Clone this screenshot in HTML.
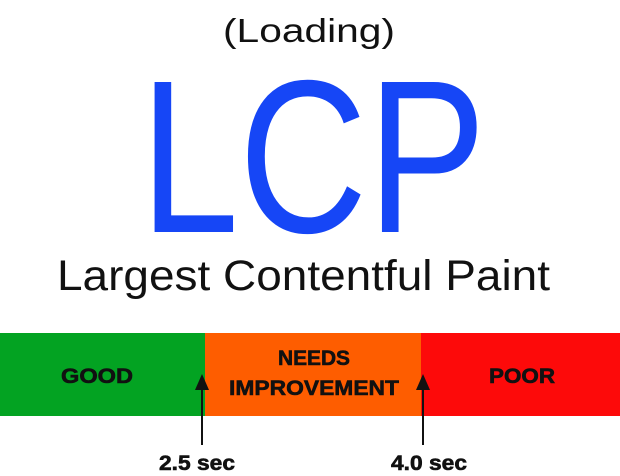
<!DOCTYPE html>
<html><head><style>html,body{margin:0;padding:0;background:#fff;width:620px;height:476px;overflow:hidden}</style></head>
<body>
<svg width="620" height="476" xmlns="http://www.w3.org/2000/svg" font-family="Liberation Sans, sans-serif">
<text x="309" y="42" font-size="33" text-anchor="middle" fill="#111" textLength="172" lengthAdjust="spacingAndGlyphs">(Loading)</text>
<text x="140" y="232" font-size="218" fill="#1646f6" textLength="346" lengthAdjust="spacingAndGlyphs">LCP</text>
<text x="57" y="290" font-size="43" fill="#111" textLength="493" lengthAdjust="spacingAndGlyphs">Largest Contentful Paint</text>
<rect x="0" y="333" width="205" height="83" fill="#03a322"/>
<rect x="205" y="333" width="216" height="83" fill="#fe5d00"/>
<rect x="421" y="333" width="199" height="83" fill="#fd0a0a"/>
<g font-weight="bold" font-size="21" fill="#111" text-anchor="middle" stroke="#111" stroke-width="0.6">
<text x="97" y="383" textLength="72" lengthAdjust="spacingAndGlyphs">GOOD</text>
<text x="314" y="365" textLength="72" lengthAdjust="spacingAndGlyphs">NEEDS</text>
<text x="314" y="395" textLength="170" lengthAdjust="spacingAndGlyphs">IMPROVEMENT</text>
<text x="522" y="383" textLength="66" lengthAdjust="spacingAndGlyphs">POOR</text>
<text x="197" y="470" font-size="21" textLength="76" lengthAdjust="spacingAndGlyphs">2.5 sec</text>
<text x="429" y="470" font-size="21" textLength="76" lengthAdjust="spacingAndGlyphs">4.0 sec</text>
</g>
<g fill="#111" stroke="#111">
<line x1="202" y1="388" x2="202" y2="445" stroke-width="2"/>
<polygon points="202,374 195,390 209,390" stroke="none"/>
<line x1="423" y1="388" x2="423" y2="445" stroke-width="2"/>
<polygon points="423,374 416,390 430,390" stroke="none"/>
</g>
</svg>
</body></html>
